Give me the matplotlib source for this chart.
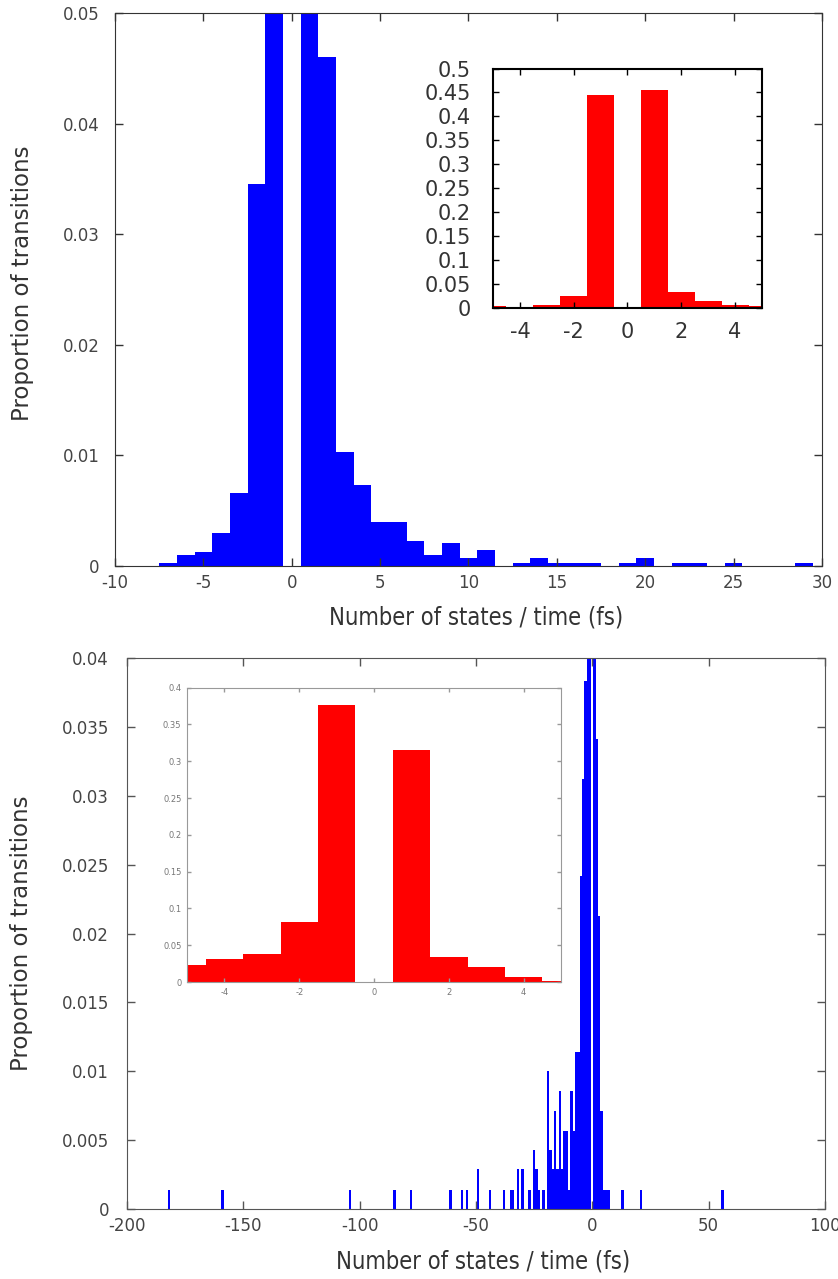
import numpy as np
import matplotlib
matplotlib.use("Agg")
import matplotlib.pyplot as plt

plt.rcParams["axes.unicode_minus"] = False

# top panel: main histogram
top_x = [-7, -6, -5, -4, -3, -2, -1, 1, 2, 3, 4, 5, 6, 7, 8, 9, 10, 11,
         13, 14, 15, 16, 17, 19, 20, 22, 23, 25, 29]
top_y = [0.0003, 0.001, 0.0013, 0.003, 0.0066, 0.0345, 0.40, 0.40, 0.046,
         0.0103, 0.0073, 0.004, 0.004, 0.0023, 0.001, 0.0021, 0.0007, 0.0014,
         0.0003, 0.0007, 0.0003, 0.0003, 0.0003, 0.0003, 0.0007, 0.0003,
         0.0003, 0.0003, 0.0003]

# top panel: inset
top_in_x = [-5, -3, -2, -1, 1, 2, 3, 4, 5]
top_in_y = [0.004, 0.007, 0.025, 0.445, 0.456, 0.034, 0.014, 0.007, 0.004]

# bottom panel: main histogram
bot_x = [-182, -159, -104, -85, -78, -61, -56, -54, -49, -44, -38, -35, -34,
         -32, -30, -27, -25, -24, -23, -21, -19, -18, -17, -16, -15, -14, -13,
         -12, -11, -10, -9, -8, -7, -6, -5, -4, -3, -2, -1, 1, 2, 3, 4, 5, 6,
         7, 13, 21, 56]
bot_y = [0.0014, 0.0014, 0.0014, 0.0014, 0.0014, 0.0014, 0.0014, 0.0014,
         0.0029, 0.0014, 0.0014, 0.0014, 0.0014, 0.0029, 0.0029, 0.0014,
         0.0043, 0.0029, 0.0014, 0.0014, 0.0100, 0.0043, 0.0029, 0.0071,
         0.0029, 0.0086, 0.0029, 0.0057, 0.0057, 0.0014, 0.0086, 0.0057,
         0.0114, 0.0114, 0.0242, 0.0312, 0.0383, 0.082, 0.377, 0.315, 0.0341,
         0.0213, 0.0071, 0.0014, 0.0014, 0.0014, 0.0014, 0.0014, 0.0014]

# bottom panel: inset
bot_in_x = [-5, -4, -3, -2, -1, 1, 2, 3, 4, 5]
bot_in_y = [0.0234, 0.031, 0.038, 0.082, 0.377, 0.315, 0.0335, 0.020, 0.0073, 0.0014]

xlabel = "Number of states / time (fs)"
ylabel = "Proportion of transitions"
txt = "#444444"

fig = plt.figure(figsize=(8.38, 12.79), dpi=100)


def style(ax, spine_col, lsize, tsize, tcol):
    for s in ax.spines.values():
        s.set_color(spine_col)
    ax.tick_params(direction="in", top=True, right=True, length=tsize,
                   width=1, color=spine_col, labelsize=lsize, labelcolor=tcol,
                   pad=6)


# ---- top main
ax1 = fig.add_axes([0.1372, 0.5575, 0.8437, 0.4323])
ax1.bar(top_x, top_y, width=1.0, color="#0000ff", edgecolor="none")
ax1.set_xlim(-10, 30)
ax1.set_ylim(0, 0.05)
ax1.set_xticks(np.arange(-10, 31, 5))
ax1.set_yticks([0, 0.01, 0.02, 0.03, 0.04, 0.05])
ax1.set_yticklabels(["0", "0.01", "0.02", "0.03", "0.04", "0.05"])
style(ax1, "#333333", 12, 6, txt)
ax1.tick_params(axis="y", pad=11)
ax1.set_xlabel(xlabel, fontsize=17, fontstretch="condensed", color="#333333")
ax1.xaxis.set_label_coords(0.511, -0.071)
ax1.set_ylabel(ylabel, fontsize=16.5, color="#333333")
ax1.yaxis.set_label_coords(-0.115, 0.512)

# ---- top inset
ax2 = fig.add_axes([0.5883, 0.7592, 0.3210, 0.1872])
ax2.bar(top_in_x, top_in_y, width=1.0, color="#ff0000", edgecolor="none")
ax2.set_xlim(-5, 5)
ax2.set_ylim(0, 0.5)
ax2.set_xticks([-4, -2, 0, 2, 4])
ax2.set_yticks(np.arange(0, 0.51, 0.05))
ax2.set_yticklabels(["0", "0.05", "0.1", "0.15", "0.2", "0.25", "0.3",
                     "0.35", "0.4", "0.45", "0.5"])
for s in ax2.spines.values():
    s.set_linewidth(1.5)
style(ax2, "#000000", 15, 4, "#333333")
ax2.tick_params(axis="y", pad=16)
ax2.tick_params(axis="x", pad=10)

# ---- bottom main
ax3 = fig.add_axes([0.1515, 0.0547, 0.8330, 0.4308])
ax3.bar(bot_x, bot_y, width=1.0, color="#0000ff", edgecolor="none")
ax3.set_xlim(-200, 100)
ax3.set_ylim(0, 0.04)
ax3.set_xticks(np.arange(-200, 101, 50))
ax3.set_yticks(np.arange(0, 0.0401, 0.005))
ax3.set_yticklabels(["0", "0.005", "0.01", "0.015", "0.02", "0.025", "0.03",
                     "0.035", "0.04"])
style(ax3, "#555555", 12, 6, txt)
ax3.tick_params(axis="y", pad=13)
ax3.set_xlabel(xlabel, fontsize=17, fontstretch="condensed", color="#333333")
ax3.xaxis.set_label_coords(0.510, -0.074)
ax3.set_ylabel(ylabel, fontsize=16.5, color="#333333")
ax3.yaxis.set_label_coords(-0.134, 0.5)

# ---- bottom inset
ax4 = fig.add_axes([0.2232, 0.2322, 0.4463, 0.2302])
ax4.bar(bot_in_x, bot_in_y, width=1.0, color="#ff0000", edgecolor="none")
ax4.set_xlim(-5, 5)
ax4.set_ylim(0, 0.4)
ax4.set_xticks([-4, -2, 0, 2, 4])
ax4.set_yticks(np.arange(0, 0.401, 0.05))
ax4.set_yticklabels(["0", "0.05", "0.1", "0.15", "0.2", "0.25", "0.3",
                     "0.35", "0.4"])
style(ax4, "#999999", 6, 3, "#777777")
ax4.tick_params(pad=4)

fig.savefig("out.png", dpi=100)
